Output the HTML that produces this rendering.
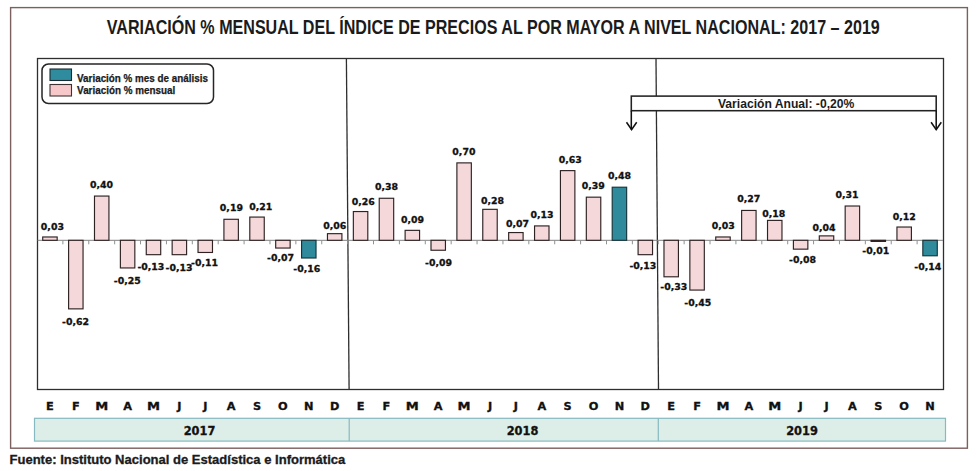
<!DOCTYPE html>
<html><head><meta charset="utf-8"><title>Variación % mensual del Índice de Precios al por Mayor</title>
<style>
html,body{margin:0;padding:0;background:#fff;width:980px;height:471px;overflow:hidden}
svg{display:block}
.t{font-family:"Liberation Sans",Arial,sans-serif;font-weight:bold;fill:#1b1b1b}
.d{font-family:"DejaVu Sans","Liberation Sans",sans-serif;font-weight:bold;fill:#111;font-size:9.4px;stroke:#111;stroke-width:0.3px}
.m{font-family:"DejaVu Sans","Liberation Sans",sans-serif;font-weight:bold;fill:#111;font-size:10.4px;stroke:#111;stroke-width:0.3px}
</style></head><body>
<svg width="980" height="471" viewBox="0 0 980 471">
<rect x="0" y="0" width="980" height="471" fill="#fff"/>
<rect x="10.6" y="7.6" width="956.8" height="440.6" fill="none" stroke="#7d5f5f" stroke-width="1.4"/>
<text class="t" x="106.8" y="34.3" font-size="20.4" textLength="773" lengthAdjust="spacingAndGlyphs">VARIACIÓN % MENSUAL DEL ÍNDICE DE PRECIOS AL POR MAYOR A NIVEL NACIONAL: 2017 – 2019</text>
<rect x="37.5" y="58.5" width="906" height="331" fill="none" stroke="#2e2e2e" stroke-width="1.3"/>
<line x1="346.4" y1="58.5" x2="349.1" y2="389" stroke="#2e2e2e" stroke-width="1.3"/>
<line x1="656" y1="58.5" x2="658.5" y2="389" stroke="#2e2e2e" stroke-width="1.3"/>
<line x1="37.5" y1="240.3" x2="943" y2="240.3" stroke="#808080" stroke-width="1"/>
<line x1="62.89" y1="240.3" x2="62.89" y2="244.3" stroke="#909090" stroke-width="1"/>
<line x1="88.77" y1="240.3" x2="88.77" y2="244.3" stroke="#909090" stroke-width="1"/>
<line x1="114.66" y1="240.3" x2="114.66" y2="244.3" stroke="#909090" stroke-width="1"/>
<line x1="140.54" y1="240.3" x2="140.54" y2="244.3" stroke="#909090" stroke-width="1"/>
<line x1="166.43" y1="240.3" x2="166.43" y2="244.3" stroke="#909090" stroke-width="1"/>
<line x1="192.31" y1="240.3" x2="192.31" y2="244.3" stroke="#909090" stroke-width="1"/>
<line x1="218.20" y1="240.3" x2="218.20" y2="244.3" stroke="#909090" stroke-width="1"/>
<line x1="244.09" y1="240.3" x2="244.09" y2="244.3" stroke="#909090" stroke-width="1"/>
<line x1="269.97" y1="240.3" x2="269.97" y2="244.3" stroke="#909090" stroke-width="1"/>
<line x1="295.86" y1="240.3" x2="295.86" y2="244.3" stroke="#909090" stroke-width="1"/>
<line x1="321.74" y1="240.3" x2="321.74" y2="244.3" stroke="#909090" stroke-width="1"/>
<line x1="347.63" y1="240.3" x2="347.63" y2="244.3" stroke="#909090" stroke-width="1"/>
<line x1="373.51" y1="240.3" x2="373.51" y2="244.3" stroke="#909090" stroke-width="1"/>
<line x1="399.40" y1="240.3" x2="399.40" y2="244.3" stroke="#909090" stroke-width="1"/>
<line x1="425.29" y1="240.3" x2="425.29" y2="244.3" stroke="#909090" stroke-width="1"/>
<line x1="451.17" y1="240.3" x2="451.17" y2="244.3" stroke="#909090" stroke-width="1"/>
<line x1="477.06" y1="240.3" x2="477.06" y2="244.3" stroke="#909090" stroke-width="1"/>
<line x1="502.94" y1="240.3" x2="502.94" y2="244.3" stroke="#909090" stroke-width="1"/>
<line x1="528.83" y1="240.3" x2="528.83" y2="244.3" stroke="#909090" stroke-width="1"/>
<line x1="554.71" y1="240.3" x2="554.71" y2="244.3" stroke="#909090" stroke-width="1"/>
<line x1="580.60" y1="240.3" x2="580.60" y2="244.3" stroke="#909090" stroke-width="1"/>
<line x1="606.49" y1="240.3" x2="606.49" y2="244.3" stroke="#909090" stroke-width="1"/>
<line x1="632.37" y1="240.3" x2="632.37" y2="244.3" stroke="#909090" stroke-width="1"/>
<line x1="658.26" y1="240.3" x2="658.26" y2="244.3" stroke="#909090" stroke-width="1"/>
<line x1="684.14" y1="240.3" x2="684.14" y2="244.3" stroke="#909090" stroke-width="1"/>
<line x1="710.03" y1="240.3" x2="710.03" y2="244.3" stroke="#909090" stroke-width="1"/>
<line x1="735.91" y1="240.3" x2="735.91" y2="244.3" stroke="#909090" stroke-width="1"/>
<line x1="761.80" y1="240.3" x2="761.80" y2="244.3" stroke="#909090" stroke-width="1"/>
<line x1="787.69" y1="240.3" x2="787.69" y2="244.3" stroke="#909090" stroke-width="1"/>
<line x1="813.57" y1="240.3" x2="813.57" y2="244.3" stroke="#909090" stroke-width="1"/>
<line x1="839.46" y1="240.3" x2="839.46" y2="244.3" stroke="#909090" stroke-width="1"/>
<line x1="865.34" y1="240.3" x2="865.34" y2="244.3" stroke="#909090" stroke-width="1"/>
<line x1="891.23" y1="240.3" x2="891.23" y2="244.3" stroke="#909090" stroke-width="1"/>
<line x1="917.11" y1="240.3" x2="917.11" y2="244.3" stroke="#909090" stroke-width="1"/>
<rect x="42.72" y="236.98" width="14.45" height="3.32" fill="#f4d8da" stroke="#2e2223" stroke-width="1.15"/>
<rect x="68.60" y="240.30" width="14.45" height="68.57" fill="#f4d8da" stroke="#2e2223" stroke-width="1.15"/>
<rect x="94.49" y="196.06" width="14.45" height="44.24" fill="#f4d8da" stroke="#2e2223" stroke-width="1.15"/>
<rect x="120.38" y="240.30" width="14.45" height="27.65" fill="#f4d8da" stroke="#2e2223" stroke-width="1.15"/>
<rect x="146.26" y="240.30" width="14.45" height="14.38" fill="#f4d8da" stroke="#2e2223" stroke-width="1.15"/>
<rect x="172.15" y="240.30" width="14.45" height="14.38" fill="#f4d8da" stroke="#2e2223" stroke-width="1.15"/>
<rect x="198.03" y="240.30" width="14.45" height="12.17" fill="#f4d8da" stroke="#2e2223" stroke-width="1.15"/>
<rect x="223.92" y="219.29" width="14.45" height="21.01" fill="#f4d8da" stroke="#2e2223" stroke-width="1.15"/>
<rect x="249.80" y="217.07" width="14.45" height="23.23" fill="#f4d8da" stroke="#2e2223" stroke-width="1.15"/>
<rect x="275.69" y="240.30" width="14.45" height="7.74" fill="#f4d8da" stroke="#2e2223" stroke-width="1.15"/>
<rect x="301.57" y="240.30" width="14.45" height="17.70" fill="#2f8a9c" stroke="#17343a" stroke-width="1.15"/>
<rect x="327.46" y="233.66" width="14.45" height="6.64" fill="#f4d8da" stroke="#2e2223" stroke-width="1.15"/>
<rect x="353.35" y="211.54" width="14.45" height="28.76" fill="#f4d8da" stroke="#2e2223" stroke-width="1.15"/>
<rect x="379.23" y="198.27" width="14.45" height="42.03" fill="#f4d8da" stroke="#2e2223" stroke-width="1.15"/>
<rect x="405.12" y="230.35" width="14.45" height="9.95" fill="#f4d8da" stroke="#2e2223" stroke-width="1.15"/>
<rect x="431.00" y="240.30" width="14.45" height="9.95" fill="#f4d8da" stroke="#2e2223" stroke-width="1.15"/>
<rect x="456.89" y="162.88" width="14.45" height="77.42" fill="#f4d8da" stroke="#2e2223" stroke-width="1.15"/>
<rect x="482.77" y="209.33" width="14.45" height="30.97" fill="#f4d8da" stroke="#2e2223" stroke-width="1.15"/>
<rect x="508.66" y="232.56" width="14.45" height="7.74" fill="#f4d8da" stroke="#2e2223" stroke-width="1.15"/>
<rect x="534.55" y="225.92" width="14.45" height="14.38" fill="#f4d8da" stroke="#2e2223" stroke-width="1.15"/>
<rect x="560.43" y="170.62" width="14.45" height="69.68" fill="#f4d8da" stroke="#2e2223" stroke-width="1.15"/>
<rect x="586.32" y="197.17" width="14.45" height="43.13" fill="#f4d8da" stroke="#2e2223" stroke-width="1.15"/>
<rect x="612.20" y="187.21" width="14.45" height="53.09" fill="#2f8a9c" stroke="#17343a" stroke-width="1.15"/>
<rect x="638.09" y="240.30" width="14.45" height="14.38" fill="#f4d8da" stroke="#2e2223" stroke-width="1.15"/>
<rect x="663.98" y="240.30" width="14.45" height="36.50" fill="#f4d8da" stroke="#2e2223" stroke-width="1.15"/>
<rect x="689.86" y="240.30" width="14.45" height="49.77" fill="#f4d8da" stroke="#2e2223" stroke-width="1.15"/>
<rect x="715.75" y="236.98" width="14.45" height="3.32" fill="#f4d8da" stroke="#2e2223" stroke-width="1.15"/>
<rect x="741.63" y="210.44" width="14.45" height="29.86" fill="#f4d8da" stroke="#2e2223" stroke-width="1.15"/>
<rect x="767.52" y="220.39" width="14.45" height="19.91" fill="#f4d8da" stroke="#2e2223" stroke-width="1.15"/>
<rect x="793.40" y="240.30" width="14.45" height="8.85" fill="#f4d8da" stroke="#2e2223" stroke-width="1.15"/>
<rect x="819.29" y="235.88" width="14.45" height="4.42" fill="#f4d8da" stroke="#2e2223" stroke-width="1.15"/>
<rect x="845.17" y="206.01" width="14.45" height="34.29" fill="#f4d8da" stroke="#2e2223" stroke-width="1.15"/>
<rect x="871.06" y="240.30" width="14.45" height="1.11" fill="#f4d8da" stroke="#2e2223" stroke-width="1.15"/>
<rect x="896.95" y="227.03" width="14.45" height="13.27" fill="#f4d8da" stroke="#2e2223" stroke-width="1.15"/>
<rect x="922.83" y="240.30" width="14.45" height="15.48" fill="#2f8a9c" stroke="#17343a" stroke-width="1.15"/>
<text class="d" x="52.4" y="229.6" text-anchor="middle">0,03</text>
<text class="d" x="75.6" y="324.8" text-anchor="middle">-0,62</text>
<text class="d" x="101.6" y="187.7" text-anchor="middle">0,40</text>
<text class="d" x="127.3" y="283.7" text-anchor="middle">-0,25</text>
<text class="d" x="150.9" y="270" text-anchor="middle">-0,13</text>
<text class="d" x="179" y="271.3" text-anchor="middle">-0,13</text>
<text class="d" x="204.5" y="265.8" text-anchor="middle">-0,11</text>
<text class="d" x="231.4" y="211" text-anchor="middle">0,19</text>
<text class="d" x="260.8" y="210" text-anchor="middle">0,21</text>
<text class="d" x="280.5" y="260.7" text-anchor="middle">-0,07</text>
<text class="d" x="306.8" y="272.2" text-anchor="middle">-0,16</text>
<text class="d" x="334.7" y="229.2" text-anchor="middle">0,06</text>
<text class="d" x="363.2" y="205.4" text-anchor="middle">0,26</text>
<text class="d" x="386.5" y="189.9" text-anchor="middle">0,38</text>
<text class="d" x="412.6" y="222.5" text-anchor="middle">0,09</text>
<text class="d" x="438.5" y="266" text-anchor="middle">-0,09</text>
<text class="d" x="463.9" y="155" text-anchor="middle">0,70</text>
<text class="d" x="492.6" y="203.8" text-anchor="middle">0,28</text>
<text class="d" x="517.5" y="227.2" text-anchor="middle">0,07</text>
<text class="d" x="542.1" y="217.9" text-anchor="middle">0,13</text>
<text class="d" x="570.3" y="162.6" text-anchor="middle">0,63</text>
<text class="d" x="593.2" y="188.6" text-anchor="middle">0,39</text>
<text class="d" x="619.5" y="179.4" text-anchor="middle">0,48</text>
<text class="d" x="642.9" y="269.3" text-anchor="middle">-0,13</text>
<text class="d" x="673.8" y="289.9" text-anchor="middle">-0,33</text>
<text class="d" x="697.8" y="306.4" text-anchor="middle">-0,45</text>
<text class="d" x="723.3" y="229.4" text-anchor="middle">0,03</text>
<text class="d" x="748.8" y="202.4" text-anchor="middle">0,27</text>
<text class="d" x="773.7" y="217.2" text-anchor="middle">0,18</text>
<text class="d" x="802.5" y="263.4" text-anchor="middle">-0,08</text>
<text class="d" x="824.1" y="231.2" text-anchor="middle">0,04</text>
<text class="d" x="847" y="198" text-anchor="middle">0,31</text>
<text class="d" x="875.8" y="254.4" text-anchor="middle">-0,01</text>
<text class="d" x="904.3" y="219.7" text-anchor="middle">0,12</text>
<text class="d" x="927.8" y="270.1" text-anchor="middle">-0,14</text>
<rect x="42" y="64" width="171.5" height="39.5" rx="6.5" ry="6.5" fill="#fff" stroke="#262626" stroke-width="1.5"/>
<rect x="50" y="69" width="21.5" height="11.5" fill="#2f8c9e" stroke="#1a2a2e" stroke-width="1.1"/>
<rect x="50" y="84.5" width="21.5" height="11.5" fill="#f6c8ca" stroke="#3d3333" stroke-width="1.1"/>
<text class="t" x="77.1" y="82" font-size="10.1" stroke="#1b1b1b" stroke-width="0.25" textLength="130.8" lengthAdjust="spacingAndGlyphs">Variación % mes de análisis</text>
<text class="t" x="77.1" y="94.1" font-size="10.1" stroke="#1b1b1b" stroke-width="0.25" textLength="98.2" lengthAdjust="spacingAndGlyphs">Variación % mensual</text>
<rect x="631.3" y="96.1" width="304.9" height="14.6" fill="#fff" stroke="#222" stroke-width="1.55"/>
<line x1="631.3" y1="110.6" x2="631.3" y2="129.5" stroke="#111" stroke-width="1.55"/>
<polyline points="626.5,122.3 631.6,129.7 636.7,122.3" fill="none" stroke="#111" stroke-width="1.55"/>
<line x1="936.2" y1="110.6" x2="936.2" y2="129.5" stroke="#111" stroke-width="1.55"/>
<polyline points="931.1,122.3 936.2,129.7 941.3,122.3" fill="none" stroke="#111" stroke-width="1.55"/>
<text class="t" x="717.9" y="108.4" font-size="12.3" textLength="136.4" lengthAdjust="spacingAndGlyphs">Variación Anual: -0,20%</text>
<text class="m" transform="translate(49.94,410.3) scale(1.09,1)" text-anchor="middle">E</text>
<text class="m" transform="translate(75.83,410.3) scale(1.09,1)" text-anchor="middle">F</text>
<text class="m" transform="translate(101.71,410.3) scale(1.26,1)" text-anchor="middle">M</text>
<text class="m" transform="translate(127.60,410.3) scale(1.09,1)" text-anchor="middle">A</text>
<text class="m" transform="translate(153.49,410.3) scale(1.26,1)" text-anchor="middle">M</text>
<text class="m" transform="translate(179.37,410.3) scale(1.09,1)" text-anchor="middle">J</text>
<text class="m" transform="translate(205.26,410.3) scale(1.09,1)" text-anchor="middle">J</text>
<text class="m" transform="translate(231.14,410.3) scale(1.09,1)" text-anchor="middle">A</text>
<text class="m" transform="translate(257.03,410.3) scale(1.09,1)" text-anchor="middle">S</text>
<text class="m" transform="translate(282.91,410.3) scale(1.09,1)" text-anchor="middle">O</text>
<text class="m" transform="translate(308.80,410.3) scale(1.09,1)" text-anchor="middle">N</text>
<text class="m" transform="translate(334.69,410.3) scale(1.09,1)" text-anchor="middle">D</text>
<text class="m" transform="translate(360.57,410.3) scale(1.09,1)" text-anchor="middle">E</text>
<text class="m" transform="translate(386.46,410.3) scale(1.09,1)" text-anchor="middle">F</text>
<text class="m" transform="translate(412.34,410.3) scale(1.26,1)" text-anchor="middle">M</text>
<text class="m" transform="translate(438.23,410.3) scale(1.09,1)" text-anchor="middle">A</text>
<text class="m" transform="translate(464.11,410.3) scale(1.26,1)" text-anchor="middle">M</text>
<text class="m" transform="translate(490.00,410.3) scale(1.09,1)" text-anchor="middle">J</text>
<text class="m" transform="translate(515.89,410.3) scale(1.09,1)" text-anchor="middle">J</text>
<text class="m" transform="translate(541.77,410.3) scale(1.09,1)" text-anchor="middle">A</text>
<text class="m" transform="translate(567.66,410.3) scale(1.09,1)" text-anchor="middle">S</text>
<text class="m" transform="translate(593.54,410.3) scale(1.09,1)" text-anchor="middle">O</text>
<text class="m" transform="translate(619.43,410.3) scale(1.09,1)" text-anchor="middle">N</text>
<text class="m" transform="translate(645.31,410.3) scale(1.09,1)" text-anchor="middle">D</text>
<text class="m" transform="translate(671.20,410.3) scale(1.09,1)" text-anchor="middle">E</text>
<text class="m" transform="translate(697.09,410.3) scale(1.09,1)" text-anchor="middle">F</text>
<text class="m" transform="translate(722.97,410.3) scale(1.26,1)" text-anchor="middle">M</text>
<text class="m" transform="translate(748.86,410.3) scale(1.09,1)" text-anchor="middle">A</text>
<text class="m" transform="translate(774.74,410.3) scale(1.26,1)" text-anchor="middle">M</text>
<text class="m" transform="translate(800.63,410.3) scale(1.09,1)" text-anchor="middle">J</text>
<text class="m" transform="translate(826.51,410.3) scale(1.09,1)" text-anchor="middle">J</text>
<text class="m" transform="translate(852.40,410.3) scale(1.09,1)" text-anchor="middle">A</text>
<text class="m" transform="translate(878.29,410.3) scale(1.09,1)" text-anchor="middle">S</text>
<text class="m" transform="translate(904.17,410.3) scale(1.09,1)" text-anchor="middle">O</text>
<text class="m" transform="translate(930.06,410.3) scale(1.09,1)" text-anchor="middle">N</text>
<rect x="34.5" y="418.3" width="911" height="22.8" fill="#ddeee8" stroke="#86b9c0" stroke-width="1.2"/>
<line x1="349.2" y1="418.3" x2="349.2" y2="441.1" stroke="#86b9c0" stroke-width="1.2"/>
<line x1="658.3" y1="418.3" x2="658.3" y2="441.1" stroke="#86b9c0" stroke-width="1.2"/>
<text class="d" x="199.5" y="434.5" font-size="11.4" text-anchor="middle" style="font-size:11.4px">2017</text>
<text class="d" x="522.5" y="434.5" text-anchor="middle" style="font-size:11.4px">2018</text>
<text class="d" x="802" y="434.5" text-anchor="middle" style="font-size:11.4px">2019</text>
<text class="t" x="9.5" y="464" font-size="12" stroke="#1b1b1b" stroke-width="0.3" textLength="335.8" lengthAdjust="spacingAndGlyphs">Fuente: Instituto Nacional de Estadística e Informática</text>
</svg>
</body></html>
